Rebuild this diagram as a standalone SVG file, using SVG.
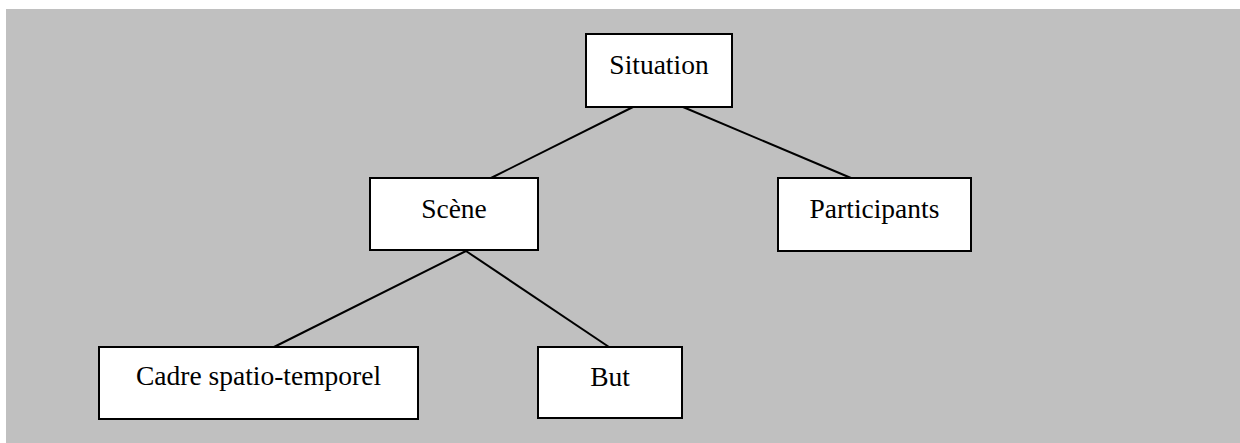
<svg xmlns="http://www.w3.org/2000/svg" width="1240" height="443" viewBox="0 0 1240 443">
<style>
.box{fill:#ffffff;stroke:#000000;stroke-width:2}
.lbl{font-family:"Liberation Serif","Times New Roman",serif;font-size:27.5px;fill:#000000;text-anchor:middle}
.edge{stroke:#000000;stroke-width:2;fill:none}
</style>
<rect x="0" y="0" width="1240" height="443" fill="#ffffff"/>
<rect x="6" y="9" width="1234" height="434" fill="#c0c0c0"/>
<g id="connectors">
<line class="edge" x1="633" y1="107" x2="491" y2="178"/>
<line class="edge" x1="683" y1="107" x2="851" y2="178"/>
<line class="edge" x1="466" y1="251" x2="274" y2="347"/>
<line class="edge" x1="466" y1="251" x2="609" y2="347"/>
</g>
<g id="situation">
<rect class="box" x="586" y="34" width="146" height="73"/>
<text class="lbl" x="659" y="74">Situation</text>
</g>
<g id="scene">
<rect class="box" x="370" y="178" width="168" height="72"/>
<text class="lbl" x="454" y="218">Scène</text>
</g>
<g id="participants">
<rect class="box" x="778" y="178" width="193" height="73"/>
<text class="lbl" x="874.5" y="218">Participants</text>
</g>
<g id="cadre">
<rect class="box" x="99" y="347" width="319" height="72"/>
<text class="lbl" x="258.5" y="385">Cadre spatio-temporel</text>
</g>
<g id="but">
<rect class="box" x="538" y="347" width="144" height="71"/>
<text class="lbl" x="610" y="386">But</text>
</g>
</svg>
